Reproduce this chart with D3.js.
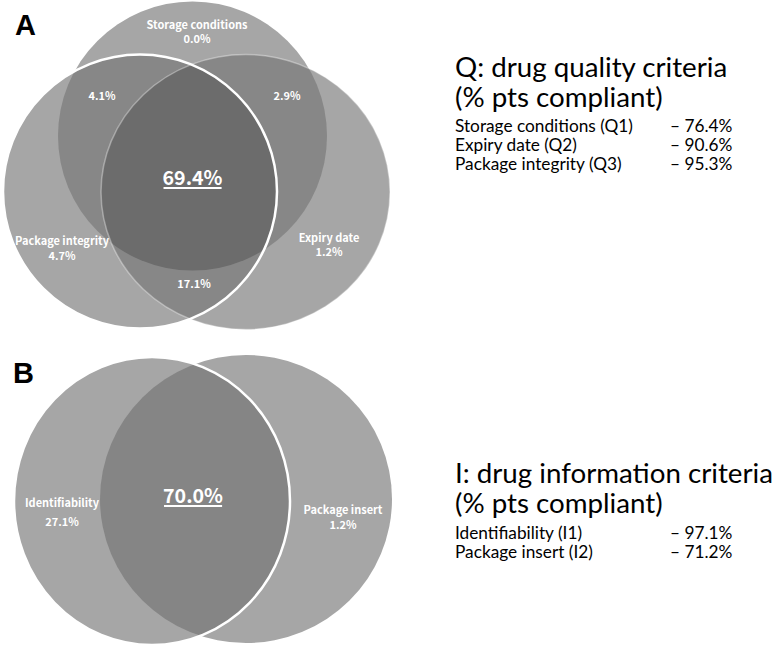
<!DOCTYPE html>
<html><head><meta charset="utf-8">
<script src="https://cdn.jsdelivr.net/npm/d3@7"></script>
<style>body{margin:0;background:#fff}</style></head>
<body><svg id="c" width="774" height="651"></svg>
<script>
// ---------- DATA ----------
const qualitySets = ["Storage conditions", "Expiry date", "Package integrity"];
const qualityCodes = ["Q1", "Q2", "Q3"];
const qualityCompliant = [76.4, 90.6, 95.3];
const qualityOnly = [0.0, 1.2, 4.7];
const qualityPairSets = [[0, 2], [0, 1], [1, 2]];
const qualityPairValues = [4.1, 2.9, 17.1];
const qualityAll = 69.4;

const infoSets = ["Identifiability", "Package insert"];
const infoCodes = ["I1", "I2"];
const infoCompliant = [97.1, 71.2];
const infoOnly = [27.1, 1.2];
const infoAll = 70.0;

const titleA = ["Q: drug quality criteria", "(% pts compliant)"];
const titleB = ["I: drug information criteria", "(% pts compliant)"];

// ---------- LAYOUT (schematic) ----------
const shapesA = [
  {cx: 192.5, cy: 136, rx: 134.5, ry: 134.5},
  {cx: 245.5, cy: 192, rx: 144.5, ry: 137.5},
  {cx: 140, cy: 191.5, rx: 137, ry: 137}
];
const onlyPosA = [{x: 197, y: 28.5}, {x: 329, y: 241.5}, {x: 62, y: 244.5}];
const onlyGapA = [14.5, 14.5, 15.5];
const pairPosA = [{x: 102, y: 100}, {x: 287, y: 100}, {x: 194, y: 288}];
const allPosA = {x: 192.5, y: 185};

const shapesB = [
  {cx: 152, cy: 501, rx: 138, ry: 144},
  {cx: 246, cy: 499, rx: 146, ry: 144}
];
const onlyPosB = [{x: 62, y: 506.5}, {x: 343, y: 514}];
const onlyGapB = [19.5, 14.5];
const allPosB = {x: 193, y: 503};

const C1 = "#a6a6a6", C2 = "#878787", C3 = "#6c6c6c";
const fmt = d3.format(".1f");
const pct = v => fmt(v) + "%";

const svg = d3.select("#c");
const defs = svg.append("defs");

function venn(id, shapes, c2) {
  const g = svg.append("g");
  shapes.forEach((s, i) => {
    defs.append("clipPath").attr("id", id + i)
      .append("ellipse").attr("cx", s.cx).attr("cy", s.cy).attr("rx", s.rx).attr("ry", s.ry);
  });
  const ell = (sel, s, fill) => sel.append("ellipse")
      .attr("cx", s.cx).attr("cy", s.cy).attr("rx", s.rx).attr("ry", s.ry).attr("fill", fill);
  shapes.forEach(s => ell(g, s, C1));
  for (let i = 0; i < shapes.length; i++)
    for (let j = i + 1; j < shapes.length; j++)
      ell(g, shapes[i], c2).attr("clip-path", `url(#${id}${j})`);
  if (shapes.length === 3) {
    const gg = g.append("g").attr("clip-path", `url(#${id}2)`);
    ell(gg, shapes[0], C3).attr("clip-path", `url(#${id}1)`);
  }
  return g;
}

// ---------- Panel A ----------
const gA = venn("ca", shapesA, C2);
gA.append("ellipse").datum(shapesA[1])
  .attr("cx", d => d.cx).attr("cy", d => d.cy).attr("rx", d => d.rx).attr("ry", d => d.ry)
  .attr("fill", "none").attr("stroke", "rgba(255,255,255,0.35)").attr("stroke-width", 1.5);
gA.append("ellipse").datum(shapesA[2])
  .attr("cx", d => d.cx).attr("cy", d => d.cy).attr("rx", d => d.rx).attr("ry", d => d.ry)
  .attr("fill", "none").attr("stroke", "#fff").attr("stroke-width", 2.5);

// ---------- Panel B ----------
const gB = venn("cb", shapesB, "#858585");
gB.append("ellipse").datum(shapesB[0])
  .attr("cx", d => d.cx).attr("cy", d => d.cy).attr("rx", d => d.rx).attr("ry", d => d.ry)
  .attr("fill", "none").attr("stroke", "#fff").attr("stroke-width", 2.5);

// ---------- helpers ----------
const KF = "'Noto Sans CJK KR', 'Noto Sans', sans-serif";
const TF = "Lato, 'Open Sans', sans-serif";
function measure(t, size, fam, weight) {
  const n = svg.append("text").attr("font-family", fam).attr("font-size", size)
    .attr("font-weight", weight || "normal").text(t);
  const w = n.node().getComputedTextLength(); n.remove(); return w;
}
const labSize = 12 * 101 / measure("Storage conditions", 12, KF, "bold");
const bigSize = 22 * 60 / measure("69.4%", 22, KF, "bold");

function lab(x, y, t, size) {
  return svg.append("text").attr("x", x).attr("y", y).attr("text-anchor", "middle")
    .attr("font-family", KF).attr("font-weight", "bold").attr("font-size", size || labSize)
    .attr("fill", "#fff").text(t);
}
qualitySets.forEach((s, i) => {
  lab(onlyPosA[i].x, onlyPosA[i].y, s);
  lab(onlyPosA[i].x, onlyPosA[i].y + onlyGapA[i], pct(qualityOnly[i]));
});
qualityPairValues.forEach((v, i) => lab(pairPosA[i].x, pairPosA[i].y, pct(v)));
infoSets.forEach((s, i) => {
  lab(onlyPosB[i].x, onlyPosB[i].y, s);
  lab(onlyPosB[i].x, onlyPosB[i].y + onlyGapB[i], pct(infoOnly[i]));
});
function big(p, v) {
  const t = lab(p.x, p.y, pct(v), bigSize);
  const b = t.node().getBBox();
  svg.append("line").attr("x1", b.x + 1).attr("x2", b.x + b.width - 1)
    .attr("y1", p.y + 3).attr("y2", p.y + 3).attr("stroke", "#fff").attr("stroke-width", 1.8);
}
big(allPosA, qualityAll);
big(allPosB, infoAll);

// Panel letters
svg.append("text").attr("x", 15).attr("y", 35).attr("font-family", "'Liberation Sans', Arial, sans-serif")
  .attr("font-weight", "bold").attr("font-size", 29).text("A");
svg.append("text").attr("x", 13).attr("y", 383).attr("font-family", "'Liberation Sans', Arial, sans-serif")
  .attr("font-weight", "bold").attr("font-size", 29).text("B");

// ---------- Legends ----------
const titleSize = 26 * 318 / measure(titleB[0], 26, TF);
const itemSize = 16 * 178 / measure("Storage conditions (Q1)", 16, TF);

function legend(x, titleLines, titleYs, names, codes, vals, itemYs) {
  const g = svg.append("g").attr("font-family", TF).attr("fill", "#000");
  titleLines.forEach((t, i) => g.append("text").attr("x", x).attr("y", titleYs[i])
    .attr("font-size", titleSize).text(t));
  names.forEach((n, i) => {
    g.append("text").attr("x", x).attr("y", itemYs[i]).attr("font-size", itemSize)
      .text(`${n} (${codes[i]})`);
    g.append("text").attr("x", 670).attr("y", itemYs[i]).attr("font-size", itemSize)
      .text(`\u2013 ${pct(vals[i])}`);
  });
}
legend(455, titleA, [77, 107], qualitySets, qualityCodes, qualityCompliant, [131.5, 150.5, 169.5]);
legend(455, titleB, [483, 513], infoSets, infoCodes, infoCompliant, [539, 558]);
</script></body></html>
